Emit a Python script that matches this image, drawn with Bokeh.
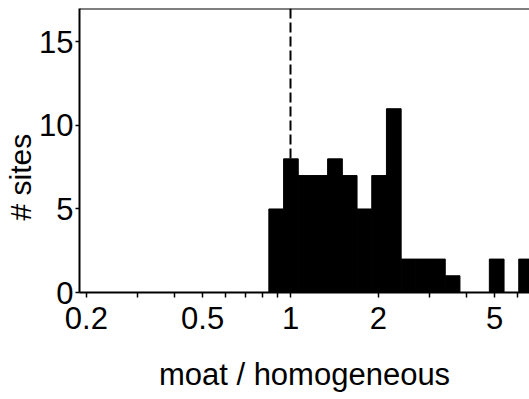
import math
from bokeh.plotting import figure
from bokeh.models import FixedTicker, Span, Title, CustomJSTickFormatter, ColumnDataSource
from bokeh.embed import file_html
from bokeh.resources import INLINE

# ---- data ----
bin_edges = [0.843, 0.947, 1.063, 1.194, 1.340, 1.505, 1.690, 1.898, 2.131,
             2.393, 2.687, 3.017, 3.388, 3.805, 4.272, 4.797, 5.387, 6.049, 6.792]
counts = [5, 8, 7, 7, 8, 7, 5, 7, 11, 2, 2, 2, 1, 0, 0, 2, 0, 2]
x_major_ticks = [0.2, 0.5, 1, 2, 5]
x_minor_ticks = [0.3, 0.4, 0.6, 0.7, 0.8, 0.9, 3, 4, 6]
y_ticks = [0, 5, 10, 15]
reference_ratio = 1
x_label = "moat / homogeneous"
y_label = "# sites"

FONT = "Liberation Sans"

p = figure(width=529, height=399, x_axis_type="log",
           x_range=(0.1894, 6.584), y_range=(0, 17),
           output_backend="svg", toolbar_location=None,
           min_border_left=79, min_border_right=0,
           min_border_top=8, min_border_bottom=107)
p.grid.visible = False
p.outline_line_color = None
p.background_fill_color = "white"
p.border_fill_color = "white"

src = ColumnDataSource(dict(left=bin_edges[:-1], right=bin_edges[1:],
                            top=counts, bottom=[0] * len(counts)))
p.quad(left="left", right="right", top="top", bottom="bottom", source=src,
       fill_color="black", line_color="black", line_width=1)

p.add_layout(Span(location=reference_ratio, dimension="height",
                  line_color="black", line_width=2, line_dash="10 4"))
p.add_layout(Span(location=17, dimension="width", line_color="black", line_width=2))

# x axis
xa = p.xaxis[0]
xa.ticker = FixedTicker(ticks=x_major_ticks, minor_ticks=x_minor_ticks)
xa.formatter = CustomJSTickFormatter(code="return String(tick)")
xa.axis_line_width = 2
xa.major_tick_in = 0
xa.major_tick_out = 5
xa.minor_tick_in = 0
xa.minor_tick_out = 5
xa.major_tick_line_width = 1.5
xa.minor_tick_line_width = 1.5
xa.major_label_text_font = FONT
xa.major_label_text_font_size = "31px"
xa.major_label_text_color = "black"
xa.major_label_standoff = 9
xa.axis_label = x_label
xa.axis_label_text_font = FONT
xa.axis_label_text_font_size = "31px"
xa.axis_label_text_font_style = "normal"
xa.axis_label_text_color = "black"
xa.axis_label_standoff = 25

# y axis
ya = p.yaxis[0]
ya.ticker = FixedTicker(ticks=y_ticks, minor_ticks=[])
ya.axis_line_width = 2
ya.major_tick_in = 0
ya.major_tick_out = 4
ya.major_tick_line_width = 1.5
ya.minor_tick_line_color = None
ya.major_label_text_font = FONT
ya.major_label_text_font_size = "31px"
ya.major_label_text_color = "black"
ya.major_label_standoff = 2

p.add_layout(Title(text=y_label, align="left", offset=72, standoff=0,
                   text_font=FONT, text_font_size="30px",
                   text_font_style="normal", text_color="black"), "left")

open("out.html", "w").write(file_html(p, INLINE))
